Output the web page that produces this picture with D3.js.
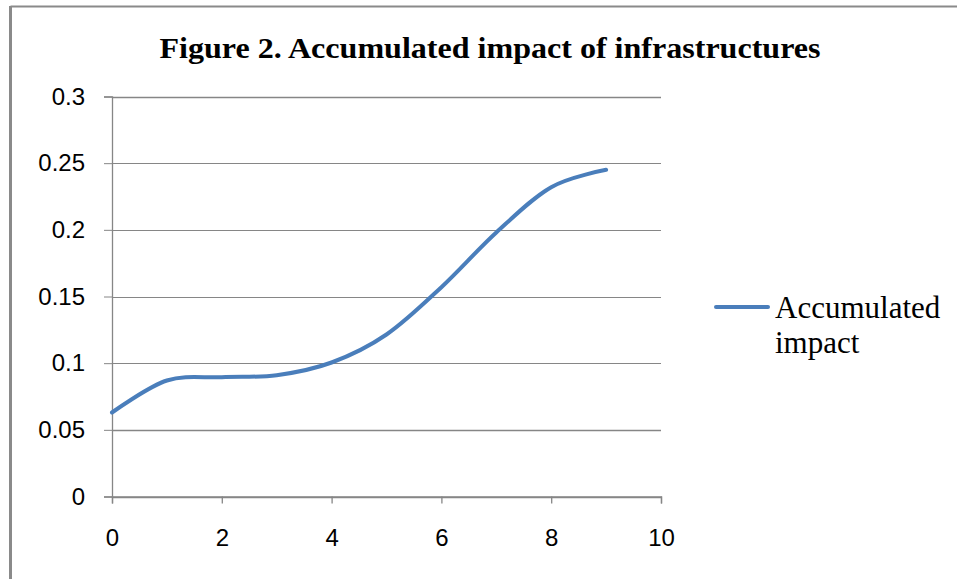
<!DOCTYPE html>
<html>
<head>
<meta charset="utf-8">
<script src="https://cdn.jsdelivr.net/npm/d3@7"></script>
<style>
  html, body { margin: 0; padding: 0; background: #fff; }
  svg { display: block; }
</style>
</head>
<body>
<svg id="chart" width="957" height="579"></svg>
<script>
// Periods (x) and accumulated impact values (y)
const periods = [0, 1, 2, 3, 4, 5, 6, 7, 8, 9];
const impact = [0.063, 0.087, 0.0895, 0.091, 0.1005, 0.1215, 0.157, 0.198, 0.232, 0.245];
const xTicks = [0, 2, 4, 6, 8, 10];
const yTicks = [0, 0.05, 0.1, 0.15, 0.2, 0.25, 0.3];
const titleText = "Figure 2. Accumulated impact of infrastructures";
const seriesName = ["Accumulated", "impact"];

const svg = d3.select("#chart");
const W = 957, H = 579;
const gridColor = "#868686";
const lineColor = "#4a7ebb";
const tickFont = "Liberation Sans, Arial, sans-serif";

// outer frame (top and left edges)
svg.append("line").attr("x1", 10.5).attr("x2", W).attr("y1", 6.5).attr("y2", 6.5)
  .attr("stroke", "#8a8a8a").attr("stroke-width", 2);
svg.append("line").attr("x1", 10.5).attr("x2", 10.5).attr("y1", 6).attr("y2", H)
  .attr("stroke", "#8a8a8a").attr("stroke-width", 3);

// title
svg.append("text")
  .attr("x", 490).attr("y", 58)
  .attr("text-anchor", "middle")
  .attr("font-family", "Liberation Serif, Times New Roman, serif")
  .attr("font-weight", "bold")
  .attr("font-size", 29)
  .attr("textLength", 661)
  .attr("lengthAdjust", "spacingAndGlyphs")
  .attr("fill", "#000")
  .text(titleText);

const x = d3.scaleLinear().domain([0, 10]).range([112, 661]);
const y = d3.scaleLinear().domain([0, 0.3]).range([496.5, 96.5]);

// horizontal gridlines
svg.append("g").selectAll("line").data(yTicks).join("line")
  .attr("x1", x(0)).attr("x2", x(10))
  .attr("y1", d => Math.round(y(d)) + 0.5).attr("y2", d => Math.round(y(d)) + 0.5)
  .attr("stroke", gridColor).attr("stroke-width", d => (d === 0 || d === 0.3 || d === 0.05) ? 1.3 : 1);

// y axis
const yAxis = svg.append("g")
  .attr("transform", `translate(${x(0)},0)`)
  .call(d3.axisLeft(y).tickValues(yTicks).tickSize(8).tickPadding(19)
    .tickFormat(d => d3.format("")(+d.toFixed(2))));
yAxis.select(".domain").attr("stroke", gridColor).attr("stroke-width", 1.3);
yAxis.selectAll(".tick line").attr("stroke", gridColor);
yAxis.selectAll(".tick text")
  .attr("font-family", tickFont)
  .attr("font-size", 24).attr("fill", "#000");

// x axis
const xAxis = svg.append("g")
  .attr("transform", `translate(0,${y(0)})`)
  .call(d3.axisBottom(x).tickValues(xTicks).tickSize(7).tickPadding(25));
xAxis.select(".domain").attr("stroke", gridColor).attr("stroke-width", 1.3);
xAxis.selectAll(".tick line").attr("stroke", gridColor).attr("stroke-width", 1.3);
xAxis.selectAll(".tick text")
  .attr("font-family", tickFont)
  .attr("font-size", 24).attr("fill", "#000");

// smoothed series line
const line = d3.line()
  .x((d, i) => x(periods[i]))
  .y(d => y(d))
  .curve(d3.curveCatmullRom.alpha(0));
svg.append("path")
  .datum(impact)
  .attr("d", line)
  .attr("fill", "none")
  .attr("stroke", lineColor)
  .attr("stroke-width", 4)
  .attr("stroke-linecap", "round");

// legend
const lg = svg.append("g");
lg.append("line")
  .attr("x1", 716).attr("x2", 768).attr("y1", 307).attr("y2", 307)
  .attr("stroke", lineColor).attr("stroke-width", 4).attr("stroke-linecap", "round");
lg.selectAll("text").data(seriesName).join("text")
  .attr("x", 775)
  .attr("y", (d, i) => 318 + i * 35)
  .attr("font-family", "Liberation Serif, Times New Roman, serif")
  .attr("font-size", 31)
  .attr("fill", "#000")
  .text(d => d);
</script>
</body>
</html>
